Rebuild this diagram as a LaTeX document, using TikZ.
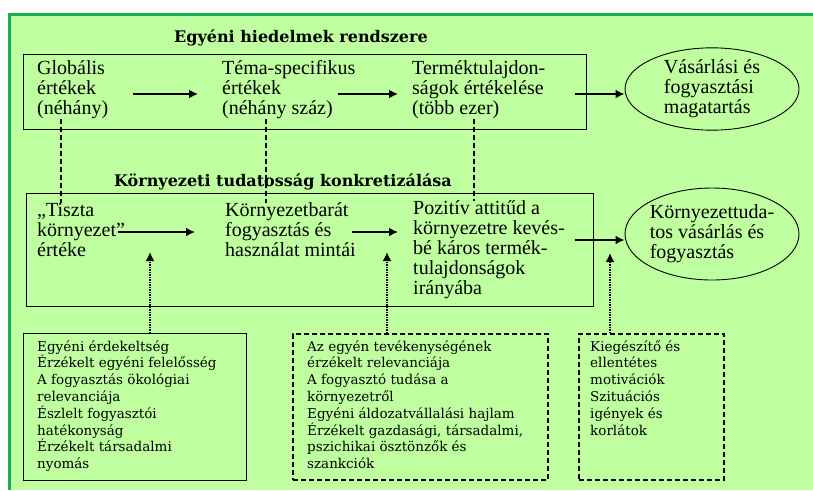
\documentclass[tikz,border=0pt]{standalone}
\usepackage{fontspec}
\setmainfont{DejaVu Serif}
\newfontfamily\tnr{Liberation Serif}
\usepackage{tikz}
\usetikzlibrary{
    arrows.meta,
    shapes.geometric,
    calc,
    positioning
}
\definecolor{bggreen}{RGB}{192,255,160}
\definecolor{edgegreen}{RGB}{22,176,80}
\tikzset{frame/.style={draw=black, line width=0.9pt, inner sep=0pt}}
\tikzset{dbox/.style={draw=black, line width=1.6pt, dash pattern=on 5pt off 3pt, inner sep=0pt}}
\tikzset{oval/.style={ellipse, draw=black, line width=0.9pt, align=left, inner sep=0pt, font=\tnr\fontsize{20}{20}\selectfont}}
\tikzset{bigtxt/.style={inner sep=0pt, align=left, anchor=west, font=\tnr\fontsize{20}{20}\selectfont}}
\tikzset{smalltxt/.style={inner sep=0pt, align=left, font=\fontsize{13.5}{16.8}\selectfont}}
\tikzset{ttl/.style={inner sep=0pt, anchor=base, font=\bfseries\fontsize{16}{18}\selectfont}}
\tikzset{flow/.style={line width=2.6pt, -{Latex[length=9pt, width=9pt]}}}
\tikzset{link/.style={line width=1.8pt, dash pattern=on 5pt off 3pt}}
\tikzset{push/.style={line width=2.5pt, dash pattern=on 1.5pt off 1pt, -{Latex[length=9pt, width=9pt]}}}

\begin{document}
\begin{tikzpicture}[x=1pt, y=-1pt]
                        \useasboundingbox (0, 0) rectangle (813, 490);
                        \fill[bggreen] (9.5, 14) rectangle (813, 490);
                        \draw[edgegreen, line width=3pt]
                        (9.5, 490) -- (9.5, 14) -- (813, 14);
                        \node[ttl] (hbt) at (301, 42) {Egyéni hiedelmek rendszere};
                        \node[frame, minimum width=563pt, minimum height=75pt] (hb) at (304.5, 91.5) {};
                        \node[bigtxt] (glob) at (37, 90) {Globális\\értékek\\(néhány)};
                        \node[bigtxt] (topic) at (222, 90) {Téma-specifikus\\értékek\\(néhány száz)};
                        \node[bigtxt] (prop) at (412, 90) {Terméktulajdon-\\ságok értékelése\\(több ezer)};
                        \node[oval, minimum width=174pt, minimum height=82pt] (buy) at (712, 89) {Vásárlási és\\fogyasztási\\magatartás};
                        \node[ttl] (ktt) at (283, 186) {Környezeti tudatosság konkretizálása};
                        \node[frame, minimum width=567pt, minimum height=113pt] (kt) at (309.5, 249.5) {};
                        \node[bigtxt] (clean) at (37, 230) {„Tiszta\\környezet”\\értéke};
                        \node[bigtxt] (habit) at (225, 230) {Környezetbarát\\fogyasztás és\\használat mintái};
                        \node[bigtxt] (attit) at (413, 250) {Pozitív attitűd a\\környezetre kevés-\\bé káros termék-\\tulajdonságok\\irányába};
                        \node[oval, inner xsep=-8pt, minimum width=174pt, minimum height=92pt] (aware) at (712, 234) {Környezettuda-\\tos vásárlás és\\fogyasztás};
                        \node[frame, anchor=north west, minimum width=223pt, minimum height=147pt] (boxa) at (23, 333) {};
                        \node[dbox, anchor=north west, minimum width=255pt, minimum height=146pt] (boxb) at (292, 333) {};
                        \node[dbox, anchor=north west, minimum width=145pt, minimum height=146pt] (boxc) at (578, 333) {};
                        \node[smalltxt, below right=7pt and 14pt of boxa.north west] (texa) {Egyéni érdekeltség\\Érzékelt egyéni felelősség\\A fogyasztás ökológiai\\relevanciája\\Észlelt fogyasztói\\hatékonyság\\Érzékelt társadalmi\\nyomás};
                        \node[smalltxt, below right=7pt and 15pt of boxb.north west] (texb) {Az egyén tevékenységének\\érzékelt relevanciája\\A fogyasztó tudása a\\környezetről\\Egyéni áldozatvállalási hajlam\\Érzékelt gazdasági, társadalmi,\\pszichikai ösztönzők és\\szankciók};
                        \node[smalltxt, below right=7pt and 12pt of boxc.north west] (texc) {Kiegészítő és\\ellentétes\\motivációk\\Szituációs\\igények és\\korlátok};
                        \draw[flow]
                        ([xshift=96pt, yshift=-4pt]glob.west) -- ([xshift=-24pt, yshift=-4pt]topic.west);
                        \draw[flow]
                        ([xshift=116pt, yshift=-4pt]topic.west) -- ([xshift=-14pt, yshift=-4pt]prop.west);
                        \draw[flow]
                        ([xshift=163pt, yshift=-4pt]prop.west) -- ([yshift=-5pt]buy.west);
                        \draw[flow]
                        ([xshift=81pt, yshift=-2pt]clean.west) -- ([xshift=-30pt, yshift=-2pt]habit.west);
                        \draw[flow]
                        ([xshift=127pt, yshift=-2pt]habit.west) -- ([xshift=-15pt, yshift=18pt]attit.west);
                        \draw[flow]
                        ([xshift=162pt, yshift=10pt]attit.west) -- ([yshift=-6pt]aware.west);
                        \draw[link]
                        ([xshift=24pt]glob.south west) coordinate (l1) -- (l1 |- clean.north);
                        \draw[link]
                        ([xshift=44pt]topic.south west) coordinate (l2) -- (l2 |- habit.north);
                        \draw[link]
                        ([xshift=62pt]prop.south west) coordinate (l3) -- (l3 |- attit.north);
                        \coordinate (tipa) at (150, 252);
                        \coordinate (tipb) at (387, 252);
                        \coordinate (tipc) at (610, 253);
                        \draw[push] (tipa |- boxa.north) -- (tipa);
                        \draw[push] (tipb |- boxb.north) -- (tipb);
                        \draw[push] (tipc |- boxc.north) -- (tipc);
\end{tikzpicture}
\end{document}
